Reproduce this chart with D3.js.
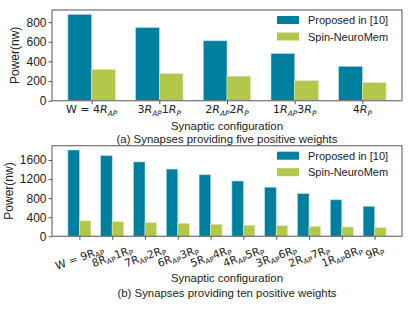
<!DOCTYPE html>
<html>
<head>
<meta charset="utf-8">
<script src="https://cdn.jsdelivr.net/npm/d3@7.9.0/dist/d3.min.js"></script>
<style>
  body { margin: 0; background: #fff; }
  svg text { font-family: "Liberation Sans", Arial, sans-serif; fill: #222; }
  .math { font-family: "DejaVu Sans", sans-serif; }
</style>
</head>
<body>
<svg id="chart" width="416" height="310"></svg>
<script>
// (a) five positive weights
const catsA = [
  [['W = 4', 0], ['R', 1, 'AP']],
  [['3', 0], ['R', 1, 'AP'], ['1', 0], ['R', 1, 'P']],
  [['2', 0], ['R', 1, 'AP'], ['2', 0], ['R', 1, 'P']],
  [['1', 0], ['R', 1, 'AP'], ['3', 0], ['R', 1, 'P']],
  [['4', 0], ['R', 1, 'P']]
];
const proposedA = [880, 745, 610, 480, 350];
const spinA     = [318, 275, 250, 205, 185];
const yTicksA   = [0, 200, 400, 600, 800];

// (b) ten positive weights
const catsB = [
  [['W = 9R', 0, 'AP']],
  [['8R', 0, 'AP'], ['1R', 0, 'P']],
  [['7R', 0, 'AP'], ['2R', 0, 'P']],
  [['6R', 0, 'AP'], ['3R', 0, 'P']],
  [['5R', 0, 'AP'], ['4R', 0, 'P']],
  [['4R', 0, 'AP'], ['5R', 0, 'P']],
  [['3R', 0, 'AP'], ['6R', 0, 'P']],
  [['2R', 0, 'AP'], ['7R', 0, 'P']],
  [['1R', 0, 'AP'], ['8R', 0, 'P']],
  [['9R', 0, 'P']]
];
const proposedB = [1810, 1690, 1560, 1410, 1290, 1160, 1030, 895, 765, 630];
const spinB     = [325, 305, 288, 272, 252, 232, 222, 210, 196, 182];
const yTicksB   = [0, 400, 800, 1200, 1600];

const seriesNames = ['Proposed in [10]', 'Spin-NeuroMem'];
const colors = ['#007f9f', '#b3c74a'];

const svg = d3.select('#chart');

function panel(opt) {
  const { top, bottom, cats, s1, s2, yTicks, rotate, caption, xlabelY, captionY, ylabelX, labFs } = opt;
  const left = 52, right = 402;
  const n = cats.length, w = 0.35;
  const pad = (n - 1 + 2 * w) * 0.05;
  const x = d3.scaleLinear().domain([-w - pad, n - 1 + w + pad]).range([left, right]);
  const ymax = d3.max(s1) * 1.05;
  const y = d3.scaleLinear().domain([0, ymax]).range([bottom, top]);
  const g = svg.append('g');

  [s1, s2].forEach((vals, si) => {
    g.selectAll(null).data(vals).join('rect')
      .attr('x', (d, i) => x(i - w + si * w))
      .attr('width', x(w) - x(0))
      .attr('y', d => y(d))
      .attr('height', d => y(0) - y(d))
      .attr('fill', colors[si])
      .attr('stroke', si === 0 ? '#a6dbe8' : '#e0eab0')
      .attr('stroke-width', 0.6);
  });

  // frame
  g.append('rect').attr('x', left).attr('y', top)
    .attr('width', right - left).attr('height', bottom - top)
    .attr('fill', 'none').attr('stroke', '#7a7a7a').attr('stroke-width', 1.3);

  // y axis
  const ya = g.append('g').attr('transform', `translate(${left},0)`)
    .call(d3.axisLeft(y).tickValues(yTicks).tickFormat(d3.format('d')).tickSize(3.5).tickPadding(2));
  ya.select('.domain').remove();
  ya.selectAll('line').attr('stroke', '#555');
  ya.selectAll('text').style('font-size', '12px').attr('fill', '#222')
    .style('font-family', '"Liberation Sans", Arial, sans-serif');

  // x ticks
  const xa = g.append('g').attr('transform', `translate(0,${bottom})`)
    .call(d3.axisBottom(x).tickValues(d3.range(n)).tickSize(3.5).tickFormat(''));
  xa.select('.domain').remove();
  xa.selectAll('line').attr('stroke', '#555');

  const subFs = labFs * 0.68;
  cats.forEach((parts, i) => {
    const t = g.append('text').attr('class', 'math').style('font-size', labFs + 'px')
      .attr('text-anchor', 'middle');
    parts.forEach(([txt, ital, sub]) => {
      t.append('tspan').text(txt).style('font-style', ital ? 'italic' : 'normal');
      if (sub) {
        t.append('tspan').text(sub).attr('baseline-shift', '-3')
          .style('font-size', subFs + 'px').style('font-style', ital ? 'italic' : 'normal');
      }
    });
    if (rotate) {
      // centre the rotated label's box under its tick, top edge fixed
      const ang = 20, rad = ang * Math.PI / 180;
      const L = t.node().getComputedTextLength();
      const H = L * Math.sin(rad) + labFs * 1.1 * Math.cos(rad);
      t.attr('dominant-baseline', 'central')
        .attr('transform', `translate(${x(i)},${bottom + 7 + H / 2}) rotate(${-ang})`);
    } else {
      t.attr('x', x(i)).attr('y', bottom + 12.5);
    }
  });

  g.append('text').attr('x', (left + right) / 2).attr('y', xlabelY)
    .attr('text-anchor', 'middle').style('font-size', '11.4px').text('Synaptic configuration');
  g.append('text').attr('x', (left + right) / 2).attr('y', captionY)
    .attr('text-anchor', 'middle').style('font-size', '11.4px').text(caption);
  g.append('text').attr('transform', `translate(${ylabelX},${(top + bottom) / 2}) rotate(-90)`)
    .attr('text-anchor', 'middle').style('font-size', '12px').text('Power(nw)');

  // legend
  const lg = g.append('g').attr('transform', `translate(277,${top + 10})`);
  seriesNames.forEach((name, i) => {
    lg.append('rect').attr('x', 0).attr('y', i * 16.5 - 4).attr('width', 22).attr('height', 8)
      .attr('fill', colors[i]);
    lg.append('text').attr('x', 31).attr('y', i * 16.5 + 4)
      .style('font-size', '11px').text(name);
  });
}

panel({ top: 10, bottom: 100.7, cats: catsA, s1: proposedA, s2: spinA, yTicks: yTicksA,
  rotate: false, caption: '(a) Synapses providing five positive weights',
  xlabelY: 129.5, captionY: 143, ylabelX: 19, labFs: 11 });

panel({ top: 145.7, bottom: 236.3, cats: catsB, s1: proposedB, s2: spinB, yTicks: yTicksB,
  rotate: true, caption: '(b) Synapses providing ten positive weights',
  xlabelY: 282, captionY: 297, ylabelX: 13, labFs: 10.8 });
</script>
</body>
</html>
